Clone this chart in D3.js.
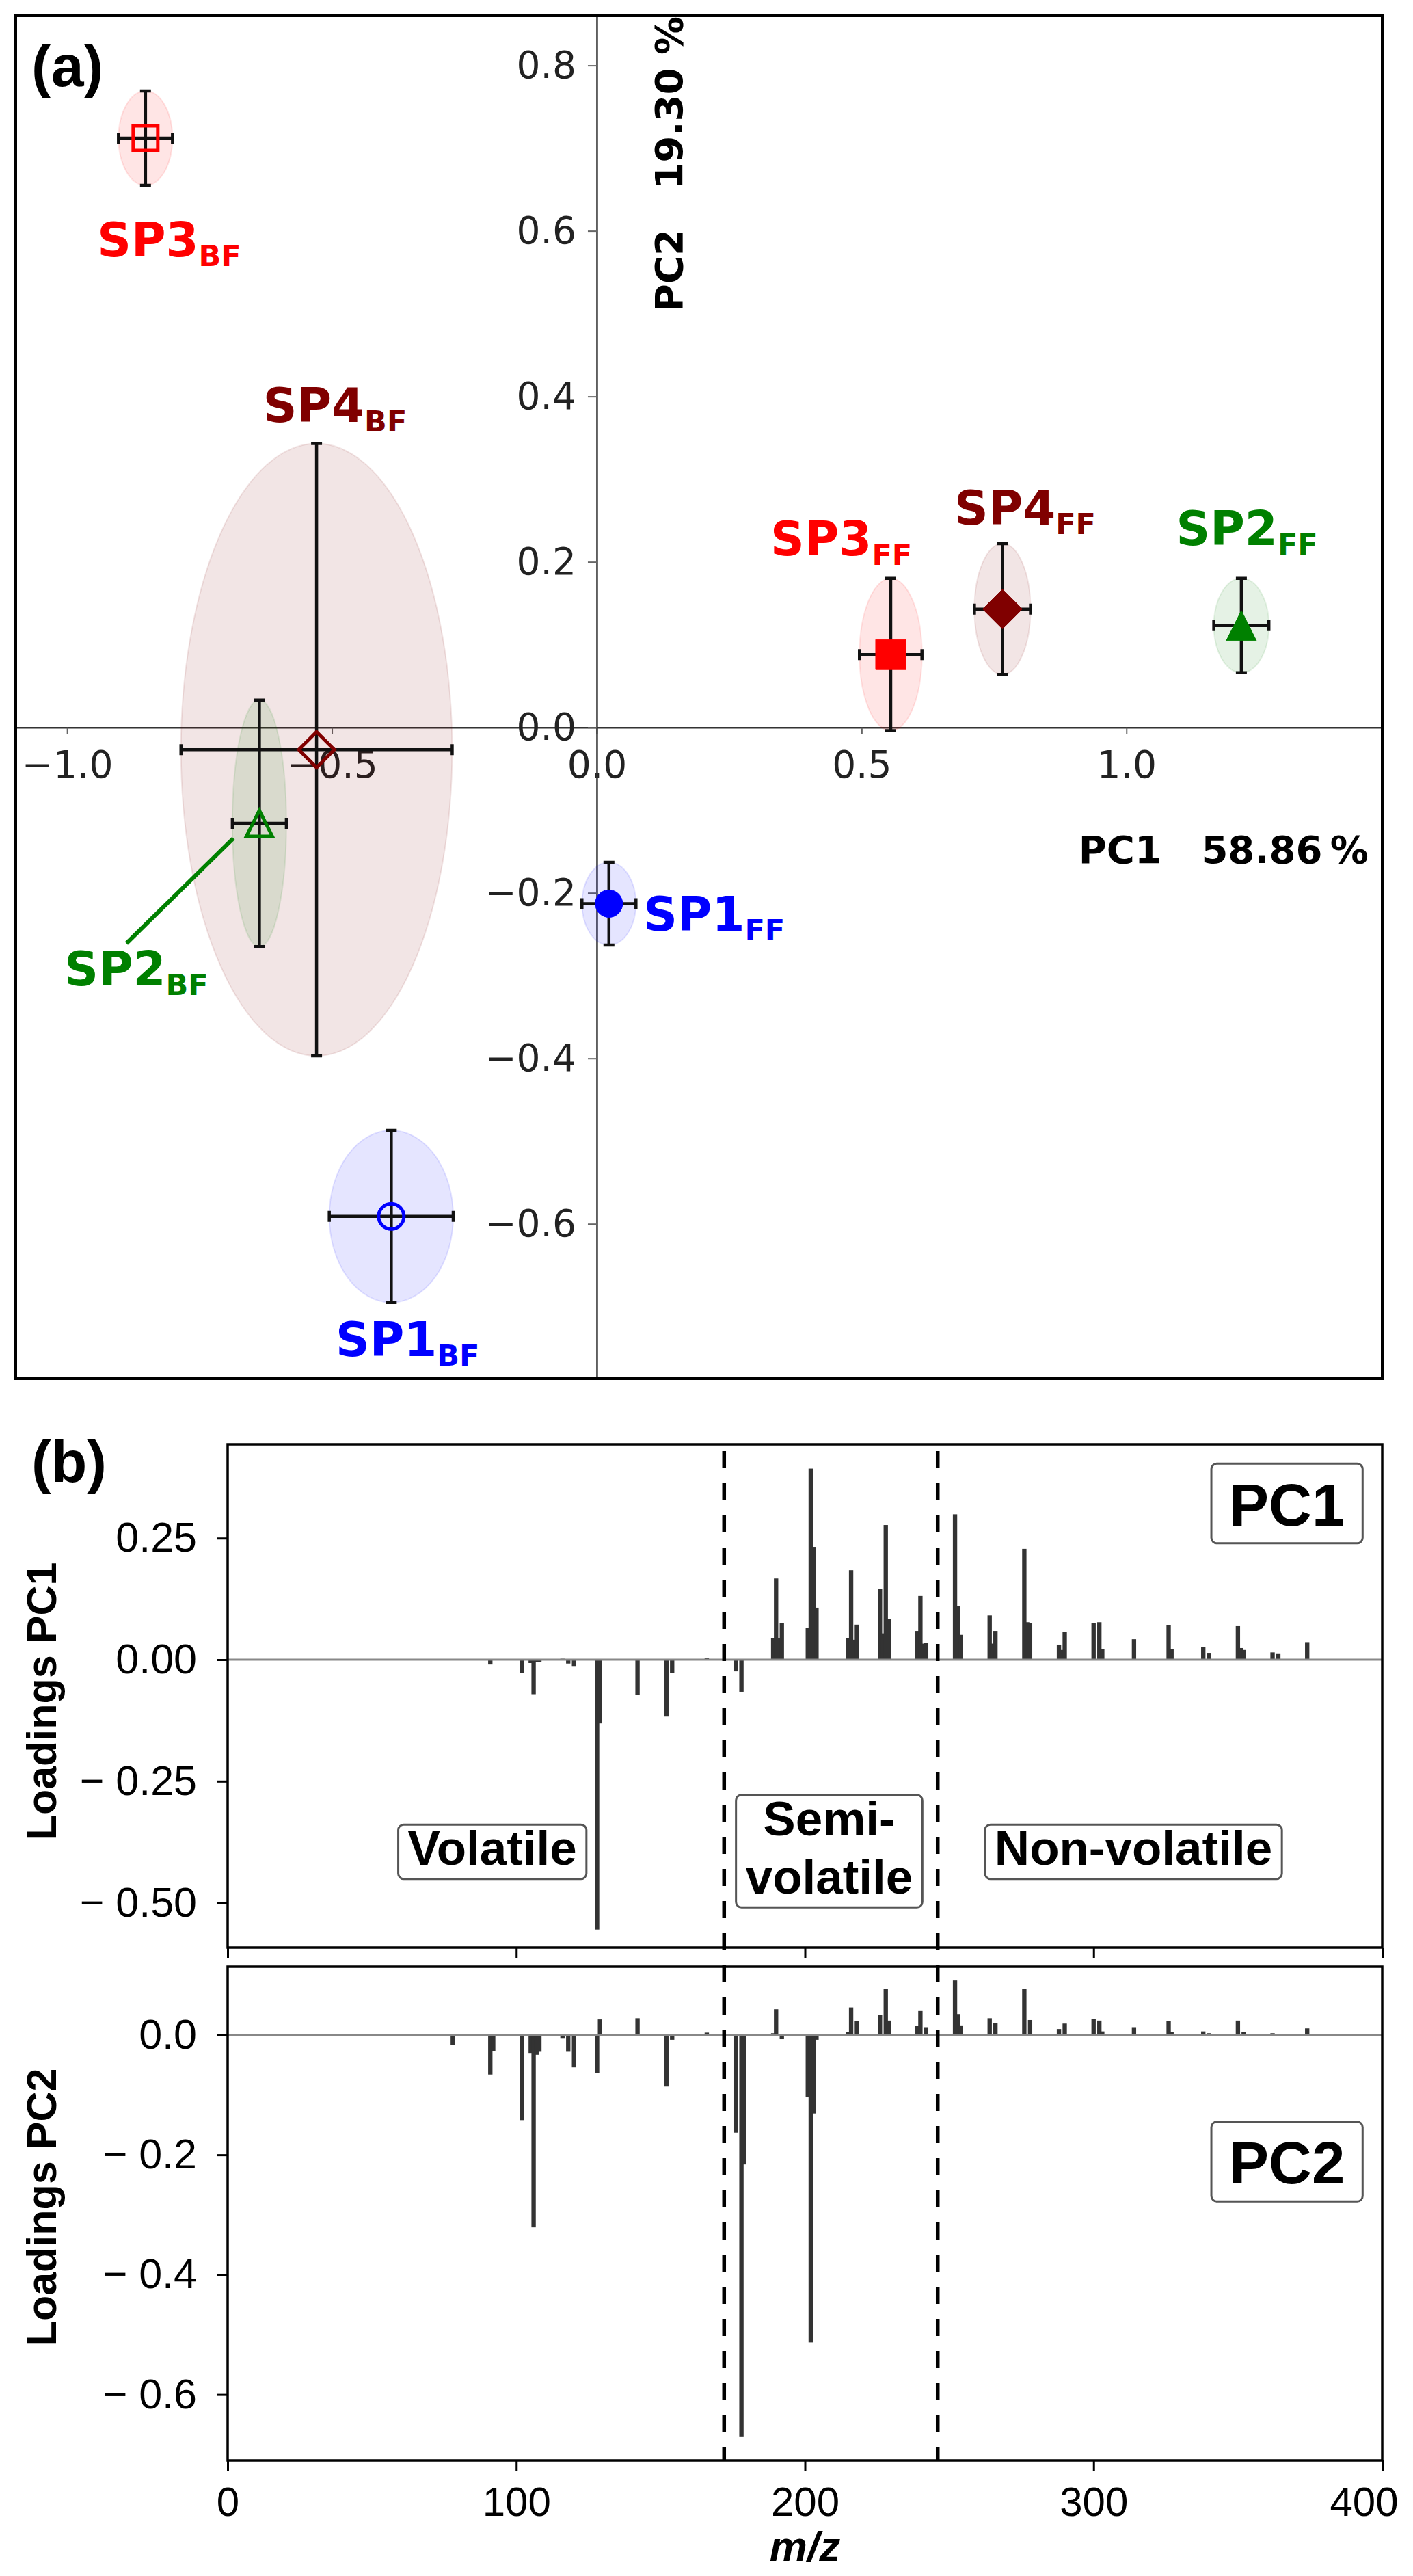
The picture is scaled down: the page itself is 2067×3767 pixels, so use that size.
<!DOCTYPE html>
<html>
<head>
<meta charset="utf-8">
<script src="https://cdn.jsdelivr.net/npm/d3@7"></script>
<style>
  body { margin: 0; background: #fff; }
  text { white-space: pre; }
</style>
</head>
<body>
<svg id="chart" width="2067" height="3767"></svg>
<script>
// ---------- panel (a): PCA scores ----------
const samples   = ["SP3_BF", "SP4_BF", "SP2_BF", "SP1_BF", "SP1_FF", "SP3_FF", "SP4_FF", "SP2_FF"];
const pc1Score  = [-0.852, -0.529, -0.637, -0.388, 0.023, 0.555, 0.766, 1.217];
const pc2Score  = [0.712, -0.027, -0.116, -0.591, -0.213, 0.088, 0.143, 0.123];
const pc1Err    = [0.051, 0.256, 0.051, 0.117, 0.051, 0.059, 0.053, 0.052];
const pc2Err    = [0.057, 0.370, 0.149, 0.104, 0.050, 0.092, 0.079, 0.057];
const pcaXTicks = [-1.0, -0.5, 0.0, 0.5, 1.0];
const pcaYTicks = [-0.6, -0.4, -0.2, 0.0, 0.2, 0.4, 0.6, 0.8];

// label anchors (data coords, start of text / baseline)
const labelX = [-0.943, -0.630, -1.005, -0.493, 0.088, 0.328, 0.675, 1.094];
const labelY = [0.569, 0.369, -0.312, -0.760, -0.246, 0.208, 0.245, 0.220];

// ---------- panel (b): loadings ----------
const pc1Mz = [91, 102, 105, 106, 107, 108, 116, 118, 120, 128, 129, 142, 152, 154, 166, 176, 178,
  189, 190, 191, 192, 201, 202, 203, 204, 215, 216, 217, 218, 226, 227, 228, 229, 239, 240, 241, 242,
  252, 253, 254, 264, 265, 266, 276, 277, 278, 288, 289, 290, 300, 302, 303, 314, 326, 327, 338, 340,
  350, 351, 352, 362, 364, 374];
const pc1Loading = [-0.010, -0.027, -0.007, -0.071, -0.005, -0.005, 0.002, -0.008, -0.013, -0.555, -0.131,
  -0.073, -0.117, -0.028, 0.003, -0.024, -0.066,
  0.044, 0.167, 0.044, 0.075, 0.066, 0.393, 0.232, 0.107, 0.044, 0.184, 0.041, 0.072, 0.146, 0.054, 0.277,
  0.083, 0.059, 0.131, 0.033, 0.035, 0.299, 0.110, 0.051, 0.091, 0.033, 0.059, 0.228, 0.077, 0.075, 0.031,
  0.020, 0.057, 0.075, 0.077, 0.022, 0.042, 0.071, 0.022, 0.026, 0.014, 0.069, 0.024, 0.020, 0.015, 0.013,
  0.036];

const pc2Mz = [78, 91, 92, 102, 105, 106, 107, 108, 116, 118, 120, 128, 129, 142, 152, 154, 166, 176, 178,
  179, 189, 190, 192, 201, 202, 203, 204, 215, 216, 218, 226, 228, 229, 239, 240, 242, 252, 253, 254, 264,
  266, 276, 278, 288, 290, 300, 302, 303, 314, 326, 327, 338, 340, 350, 352, 362, 374];
const pc2Loading = [-0.017, -0.066, -0.027, -0.142, -0.030, -0.321, -0.033, -0.028, -0.005, -0.028, -0.054,
  -0.064, 0.026, 0.028, -0.086, -0.008, 0.004, -0.163, -0.671, -0.216, 0.003, 0.043, -0.007, -0.104, -0.513,
  -0.131, -0.008, 0.005, 0.046, 0.023, 0.034, 0.077, 0.024, 0.015, 0.040, 0.013, 0.091, 0.035, 0.016, 0.028,
  0.020, 0.077, 0.025, 0.010, 0.019, 0.027, 0.024, 0.006, 0.013, 0.023, 0.005, 0.006, 0.003, 0.024, 0.005,
  0.003, 0.011];

const mzTicks = [0, 100, 200, 300, 400];
const pc1Ticks = [-0.50, -0.25, 0.00, 0.25];
const pc2Ticks = [-0.6, -0.4, -0.2, 0.0];
const regionBounds = [172, 246];
const regionNames = [["Volatile"], ["Semi-", "volatile"], ["Non-volatile"]];
const regionMz = [91.7, 208.4, 313.8];
const regionY = [-0.422, -0.361, -0.422];

// styles
const speciesColor = {SP1: "#0000ff", SP2: "#008000", SP3: "#ff0000", SP4: "#800000"};
const speciesShape = {SP1: "circle", SP2: "triangle", SP3: "square", SP4: "diamond"};

const svg = d3.select("#chart");
svg.append("rect").attr("width", 2067).attr("height", 3767).attr("fill", "#fff");

const fontA = "DejaVu Sans";
const fontB = "Liberation Sans, Arial, sans-serif";

// ================= panel (a) =================
const A = {left: 23, right: 2022, top: 23, bottom: 2016};
const xA = d3.scaleLinear().domain([-1.097, 1.483]).range([A.left, A.right]);
const yA = d3.scaleLinear().domain([-0.787, 0.860]).range([A.bottom, A.top]);
const gA = svg.append("g");

const fmtA = d3.format(".1f");
const xAxisA = gA.append("g")
    .attr("transform", "translate(0," + yA(0) + ")")
    .call(d3.axisBottom(xA).tickValues(pcaXTicks).tickFormat(fmtA)
      .tickSize(10).tickPadding(24).tickSizeOuter(0));
const yAxisA = gA.append("g")
    .attr("transform", "translate(" + xA(0) + ",0)")
    .call(d3.axisLeft(yA).tickValues(pcaYTicks).tickFormat(fmtA)
      .tickSize(13).tickPadding(17).tickSizeOuter(0));
[xAxisA, yAxisA].forEach(ax => {
  ax.select(".domain").attr("stroke", "#333").attr("stroke-width", 2.5);
  ax.selectAll(".tick line").attr("stroke", "#666").attr("stroke-width", 2);
  ax.selectAll("text").attr("font-family", fontA).attr("font-size", 55).attr("fill", "#222");
});

function markerPath(shape, s) {
  if (shape === "square") return `M${-s},${-s}H${s}V${s}H${-s}Z`;
  if (shape === "diamond") return `M0,${-s}L${s},0L0,${s}L${-s},0Z`;
  if (shape === "triangle") return `M0,${-s}L${s},${s}L${-s},${s}Z`;
  return `M${s},0A${s},${s} 0 1,1 ${-s},0A${s},${s} 0 1,1 ${s},0Z`;
}
const openSize = {square: 18, diamond: 26, triangle: 19, circle: 18.5};
const fillSize = {square: 22, diamond: 29, triangle: 22, circle: 20};

const pts = samples.map((name, i) => {
  const [sp, kind] = name.split("_");
  return {sp, kind, x: pc1Score[i], y: pc2Score[i], ex: pc1Err[i], ey: pc2Err[i],
          lx: labelX[i], ly: labelY[i]};
});

// confidence ellipses
gA.selectAll("ellipse.conf").data(pts).join("ellipse")
    .attr("cx", d => xA(d.x)).attr("cy", d => yA(d.y))
    .attr("rx", d => xA(d.x + d.ex) - xA(d.x))
    .attr("ry", d => yA(d.y) - yA(d.y + d.ey))
    .attr("fill", d => speciesColor[d.sp]).attr("fill-opacity", 0.1)
    .attr("stroke", d => speciesColor[d.sp]).attr("stroke-opacity", 0.1).attr("stroke-width", 2);

// error bars
const cap = 8;
const eb = gA.selectAll("g.eb").data(pts).join("g")
    .attr("stroke", "#111").attr("stroke-width", 4.5).attr("fill", "none");
eb.append("path").attr("d", d => {
  const cx = xA(d.x), cy = yA(d.y);
  const x0 = xA(d.x - d.ex), x1 = xA(d.x + d.ex), y0 = yA(d.y - d.ey), y1 = yA(d.y + d.ey);
  return `M${x0},${cy}H${x1}M${cx},${y0}V${y1}` +
         `M${x0},${cy - cap}V${cy + cap}M${x1},${cy - cap}V${cy + cap}` +
         `M${cx - cap},${y0}H${cx + cap}M${cx - cap},${y1}H${cx + cap}`;
});

// markers
gA.selectAll("path.mk").data(pts).join("path")
    .attr("transform", d => `translate(${xA(d.x)},${yA(d.y)})`)
    .attr("d", d => {
      const sh = speciesShape[d.sp];
      return markerPath(sh, d.kind === "FF" ? fillSize[sh] : openSize[sh]);
    })
    .attr("fill", d => d.kind === "FF" ? speciesColor[d.sp] : "none")
    .attr("stroke", d => speciesColor[d.sp])
    .attr("stroke-width", d => d.kind === "FF" ? 1 : 5);

// leader line for SP2_BF
const leader = [[-0.686, -0.134], [-0.888, -0.261]];
gA.append("line")
    .attr("x1", xA(leader[0][0])).attr("y1", yA(leader[0][1]))
    .attr("x2", xA(leader[1][0])).attr("y2", yA(leader[1][1]))
    .attr("stroke", "#008000").attr("stroke-width", 6);

// sample labels with subscripts
const lab = gA.selectAll("text.lab").data(pts).join("text")
    .attr("x", d => xA(d.lx)).attr("y", d => yA(d.ly))
    .attr("font-family", fontA).attr("font-weight", "bold")
    .attr("fill", d => speciesColor[d.sp]);
lab.append("tspan").attr("font-size", 69).text(d => d.sp);
lab.append("tspan").attr("font-size", 43).attr("dy", 14).text(d => d.kind);

// axis titles
gA.append("text")
    .attr("x", xA(1.457)).attr("y", yA(-0.164))
    .attr("text-anchor", "end")
    .attr("font-family", fontA).attr("font-weight", "bold").attr("font-size", 56)
    .text("PC1   58.86\u2009%");
gA.append("text")
    .attr("transform", `translate(${xA(0.161)},${yA(0.502)}) rotate(-90)`)
    .attr("font-family", fontA).attr("font-weight", "bold").attr("font-size", 56)
    .text("PC2   19.30 %");

// frame
gA.append("rect")
    .attr("x", A.left).attr("y", A.top)
    .attr("width", A.right - A.left).attr("height", A.bottom - A.top)
    .attr("fill", "none").attr("stroke", "#000").attr("stroke-width", 4);

svg.append("text").attr("x", 46).attr("y", 126)
    .attr("font-family", fontB).attr("font-weight", "bold").attr("font-size", 86)
    .text("(a)");

// ================= panel (b) =================
const B = {left: 333, right: 2022};
const B1 = {top: 2112, bottom: 2848};
const B2 = {top: 2876, bottom: 3598};
const xB = d3.scaleLinear().domain([0, 400]).range([B.left, B.right]);
const yB1 = d3.scaleLinear().domain([-0.592, 0.443]).range([B1.bottom, B1.top]);
const yB2 = d3.scaleLinear().domain([-0.710, 0.114]).range([B2.bottom, B2.top]);
const gB = svg.append("g");

const barHalf = 0.75;
function drawBars(mz, vals, y) {
  gB.append("g").selectAll("rect").data(mz.map((m, i) => ({m, v: vals[i]}))).join("rect")
      .attr("x", d => xB(d.m - barHalf))
      .attr("width", d => xB(d.m + barHalf) - xB(d.m - barHalf))
      .attr("y", d => Math.min(y(d.v), y(0)))
      .attr("height", d => Math.abs(y(d.v) - y(0)))
      .attr("fill", "#333");
  gB.append("line")
      .attr("x1", B.left).attr("x2", B.right).attr("y1", y(0)).attr("y2", y(0))
      .attr("stroke", "#888").attr("stroke-width", 3);
}
drawBars(pc1Mz, pc1Loading, yB1);
drawBars(pc2Mz, pc2Loading, yB2);

// region separators
gB.selectAll("line.sep").data(regionBounds).join("line")
    .attr("x1", d => xB(d)).attr("x2", d => xB(d))
    .attr("y1", B1.top + 10).attr("y2", B2.bottom)
    .attr("stroke", "#000").attr("stroke-width", 5.5).attr("stroke-dasharray", "25,22");

const minusFmt = f => v => v < 0 ? "\u2212 " + d3.format(f)(-v) : d3.format(f)(v);

function styleAxis(ax, size) {
  ax.select(".domain").remove();
  ax.selectAll(".tick line").attr("stroke", "#000").attr("stroke-width", 3);
  ax.selectAll("text").attr("font-family", fontB).attr("font-size", size).attr("fill", "#000");
}
styleAxis(gB.append("g").attr("transform", `translate(${B.left},0)`)
    .call(d3.axisLeft(yB1).tickValues(pc1Ticks).tickFormat(minusFmt(".2f")).tickSize(15).tickPadding(30)), 61);
styleAxis(gB.append("g").attr("transform", `translate(${B.left},0)`)
    .call(d3.axisLeft(yB2).tickValues(pc2Ticks).tickFormat(minusFmt(".1f")).tickSize(15).tickPadding(30)), 61);
styleAxis(gB.append("g").attr("transform", `translate(0,${B1.bottom})`)
    .call(d3.axisBottom(xB).tickValues(mzTicks).tickFormat("").tickSize(15)), 58);
const xAxB = gB.append("g").attr("transform", `translate(0,${B2.bottom})`)
    .call(d3.axisBottom(xB).tickValues(mzTicks).tickFormat(d3.format("d")).tickSize(15).tickPadding(23));
styleAxis(xAxB, 60);
xAxB.selectAll(".tick text").filter(d => d === 400).attr("text-anchor", "end").attr("dx", 23);

// frames
[B1, B2].forEach(b => {
  gB.append("rect").attr("x", B.left).attr("y", b.top)
      .attr("width", B.right - B.left).attr("height", b.bottom - b.top)
      .attr("fill", "none").attr("stroke", "#000").attr("stroke-width", 3.5);
});

// boxed labels
function boxedText(x, y, lines, size, padX, capK, descK, lineH) {
  const g = gB.append("g");
  const t = g.append("text").attr("text-anchor", "middle")
      .attr("font-family", fontB).attr("font-weight", "bold").attr("font-size", size);
  lines.forEach((ln, i) => t.append("tspan").attr("x", x).attr("y", y + i * lineH).text(ln));
  const bb = t.node().getBBox();
  g.insert("rect", "text")
      .attr("x", bb.x - padX).attr("width", bb.width + 2 * padX)
      .attr("y", y - capK * size)
      .attr("height", (lines.length - 1) * lineH + (capK + descK) * size)
      .attr("rx", 8).attr("fill", "#fff").attr("stroke", "#555").attr("stroke-width", 3);
}
regionNames.forEach((ln, i) => boxedText(xB(regionMz[i]), yB1(regionY[i]), ln, 71, 14, 0.83, 0.29, 85));
boxedText(xB(367), yB1(0.276), ["PC1"], 87, 26, 1.04, 0.30, 0);
boxedText(xB(367), yB2(-0.248), ["PC2"], 87, 26, 1.04, 0.30, 0);

// axis titles
gB.append("text").attr("transform", `translate(82,${(B1.top + B1.bottom) / 2 + 8}) rotate(-90)`)
    .attr("text-anchor", "middle").attr("font-family", fontB).attr("font-weight", "bold")
    .attr("font-size", 61).text("Loadings PC1");
gB.append("text").attr("transform", `translate(82,${(B2.top + B2.bottom) / 2 - 9}) rotate(-90)`)
    .attr("text-anchor", "middle").attr("font-family", fontB).attr("font-weight", "bold")
    .attr("font-size", 61).text("Loadings PC2");
gB.append("text").attr("x", xB(200)).attr("y", 3745)
    .attr("text-anchor", "middle").attr("font-family", fontB).attr("font-weight", "bold")
    .attr("font-style", "italic").attr("font-size", 62).text("m/z");

svg.append("text").attr("x", 46).attr("y", 2167)
    .attr("font-family", fontB).attr("font-weight", "bold").attr("font-size", 86)
    .text("(b)");
</script>
</body>
</html>
